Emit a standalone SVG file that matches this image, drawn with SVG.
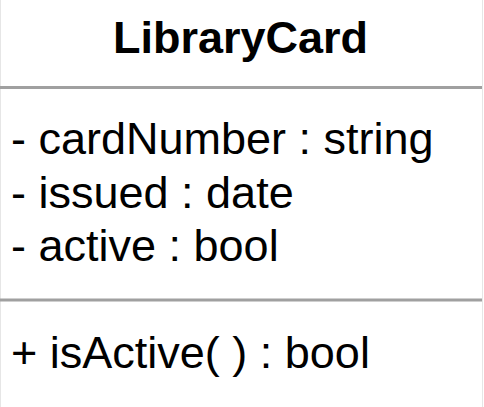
<svg xmlns="http://www.w3.org/2000/svg" width="484" height="407" viewBox="0 0 484 407">
  <style>
    .frame { fill: #ffffff; stroke: #e6e6e6; stroke-width: 1; }
    .sep { stroke: #a0a0a0; stroke-width: 3; }
    .title { font-family: "Liberation Sans", Arial, sans-serif; font-size: 45px; font-weight: bold; fill: #000000; }
    .member { font-family: "Liberation Sans", Arial, sans-serif; font-size: 45px; fill: #000000; }
  </style>
  <rect width="484" height="407" fill="#ffffff"/>
  <g id="LibraryCard">
    <rect class="frame" x="0.5" y="-1" width="482" height="410"/>
    <text class="title" x="240.5" y="53" text-anchor="middle">LibraryCard</text>
    <line class="sep" x1="0" y1="87.5" x2="482" y2="87.5"/>
    <g id="attributes">
      <text class="member" x="11" y="154">- cardNumber : string</text>
      <text class="member" x="11" y="208">- issued : date</text>
      <text class="member" x="11" y="261">- active : bool</text>
    </g>
    <line class="sep" x1="0" y1="300" x2="482" y2="300"/>
    <g id="operations">
      <text class="member" x="11" y="368">+ isActive( ) : bool</text>
    </g>
  </g>
  <g id="connectors"/>
</svg>
